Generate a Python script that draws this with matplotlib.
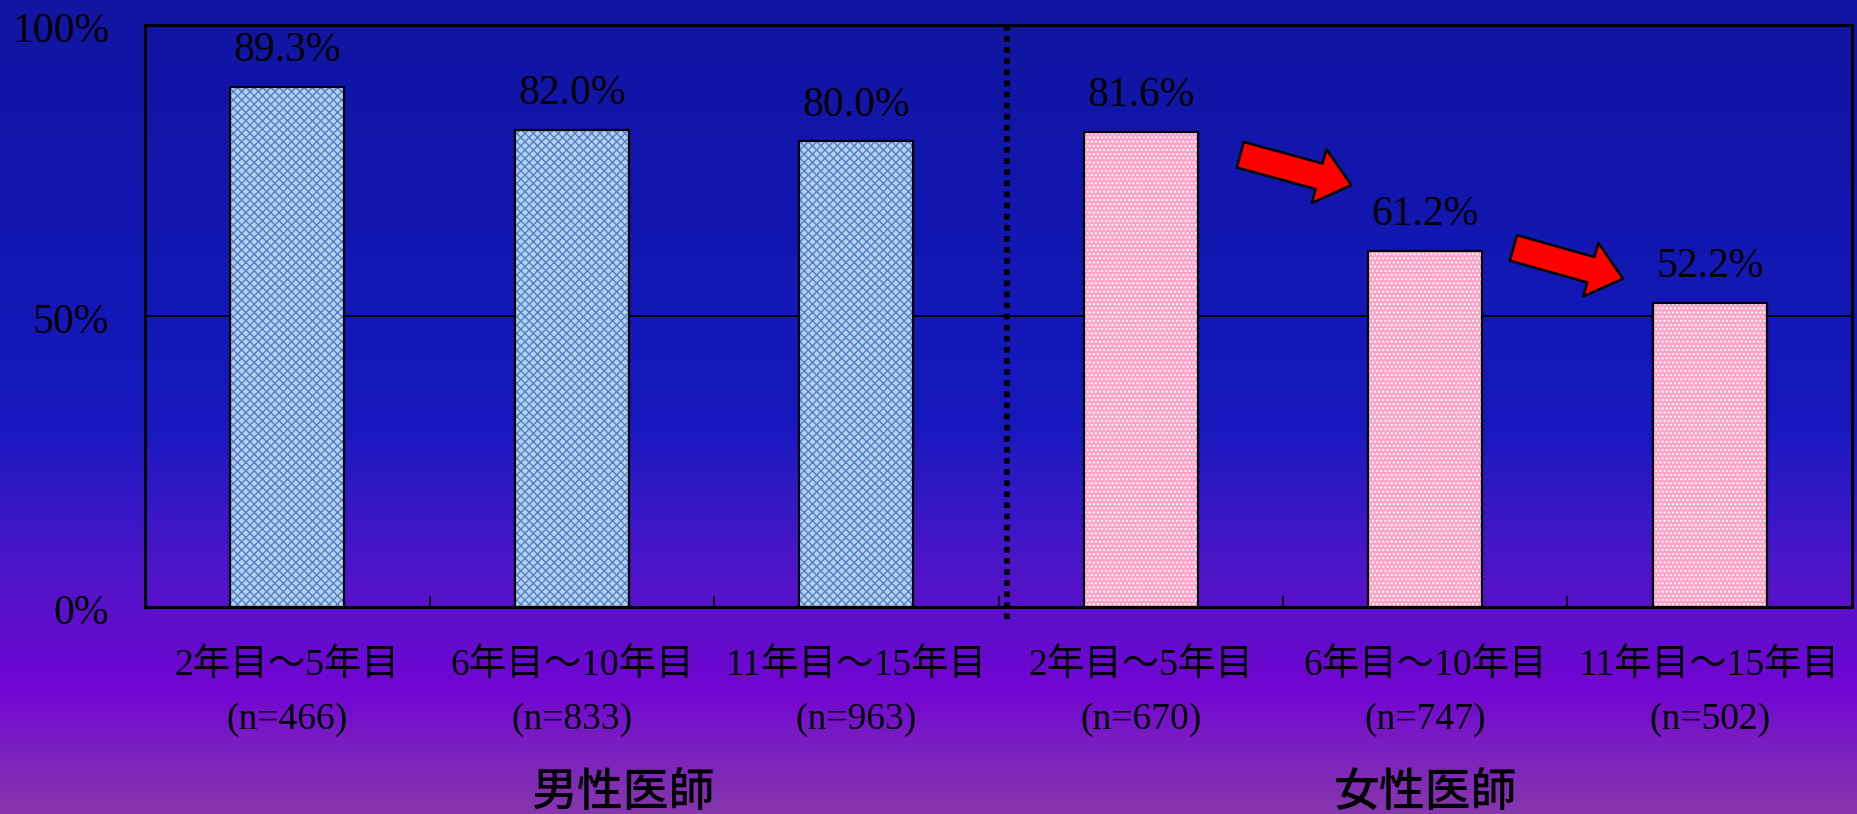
import numpy as np
import matplotlib
matplotlib.use("Agg")
import matplotlib.pyplot as plt
from matplotlib.colors import LinearSegmentedColormap
from matplotlib.patches import FancyArrowPatch

# --- data ---
periods = ["2年目～5年目", "6年目～10年目", "11年目～15年目",
           "2年目～5年目", "6年目～10年目", "11年目～15年目"]
n_counts = [466, 833, 963, 670, 747, 502]
rates = [89.3, 82.0, 80.0, 81.6, 61.2, 52.2]
groups = ["男性医師", "女性医師"]
group_x = [1.18, 4.0]
y_ticks = [0, 50, 100]
y_ticklabels = ["0%", "50%", "100%"]
# decreasing-trend arrows (tail, tip) in data coords
trend_arrows = [((3.35, 77.7), (3.74, 72.5)),
                ((4.31, 61.7), (4.695, 56.4))]

SERIF = ["Liberation Serif", "Noto Sans CJK JP"]
GOTHIC = ["Noto Sans CJK JP"]
plt.rcParams["hatch.linewidth"] = 1.0

fig = plt.figure(figsize=(18.57, 8.14), dpi=100)

# background gradient
bg = fig.add_axes([0, 0, 1, 1], zorder=-10)
bg_cmap = LinearSegmentedColormap.from_list("bg", [
    (0.00, "#1115a0"),
    (0.40, "#1418b8"),
    (0.52, "#1719be"),
    (0.60, "#3018c5"),
    (0.72, "#5314c9"),
    (0.85, "#7305d3"),
    (0.92, "#7a20c0"),
    (1.00, "#8636ad"),
])
grad = np.linspace(0, 1, 512).reshape(-1, 1)
bg.imshow(grad, aspect="auto", cmap=bg_cmap, extent=[0, 1, 0, 1], origin="upper")
bg.set_axis_off()

ax = fig.add_axes([0.0781, 0.2543, 0.9192, 0.715])
ax.set_facecolor("none")
x = np.arange(len(rates))
colors = ["#b8d0ee"] * 3 + ["#ffa2c8"] * 3
hatch_colors = ["#4f82c9"] * 3 + ["#ffffff"] * 3
hatches = ["xxxx"] * 3 + ["...."] * 3

ax.bar(x, rates, width=0.4, color=colors, edgecolor=hatch_colors,
       hatch=hatches, linewidth=0, zorder=3)
ax.bar(x, rates, width=0.4, fill=False, edgecolor="black", linewidth=1.6, zorder=4)

for xi, v in zip(x, rates):
    ax.annotate(f"{v:.1f}%", (xi, v), xytext=(0, 26), textcoords="offset points",
                ha="center", va="center", fontsize=30, family=SERIF, color="black")

ax.axhline(50, color="black", linewidth=1.3, zorder=2)
ax.plot([2.53, 2.53], [100, -2.3], color="black", linewidth=4.1,
        linestyle=(0, (1, 0.95)), dash_capstyle="butt", clip_on=False, zorder=5)

for tail, tip in trend_arrows:
    arr = FancyArrowPatch(tail, tip, arrowstyle="simple,head_length=2.4,head_width=4.0,tail_width=1.9",
                          mutation_scale=10, facecolor="#ff0000", edgecolor="black",
                          linewidth=1.8, shrinkA=0, shrinkB=0, zorder=6)
    ax.add_patch(arr)

ax.set_xlim(-0.5, 5.5)
ax.set_ylim(0, 100)
ax.set_yticks([])
yt = ax.get_yaxis_transform()
for yv, yl in zip(y_ticks, y_ticklabels):
    ax.text(-0.0211, yv - 1.2, yl, transform=yt, ha="right", va="center",
            fontsize=30, family=SERIF)
ax.set_xticks([])
ax.set_xticks(np.arange(0.5, 5.5, 1), minor=True)
ax.tick_params(axis="x", which="minor", direction="in", length=8, width=1.3, color="black")
for s in ax.spines.values():
    s.set_linewidth(2.2)
    s.set_color("black")

xt = ax.get_xaxis_transform()
for xi, lab, n in zip(x, periods, n_counts):
    ax.text(xi, -0.100, lab, transform=xt, ha="center", va="center",
            fontsize=27, family=SERIF)
    ax.text(xi, -0.193, f"(n={n})", transform=xt, ha="center", va="center",
            fontsize=27, family=SERIF)
for gx, g in zip(group_x, groups):
    ax.text(gx, -0.318, g, transform=xt, ha="center", va="center",
            fontsize=33, family=GOTHIC, fontweight="medium")

fig.savefig("out.png", dpi=100)
